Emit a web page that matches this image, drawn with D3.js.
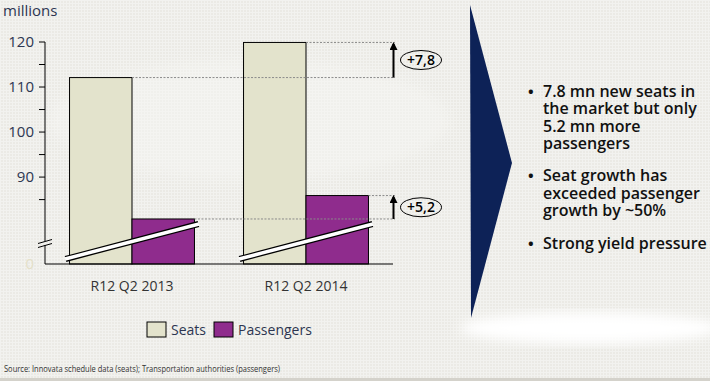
<!DOCTYPE html>
<html>
<head>
<meta charset="utf-8">
<script src="https://cdn.jsdelivr.net/npm/d3@7"></script>
<style>
  body { margin: 0; background: #ecebe6; }
  svg { display: block; }
</style>
</head>
<body>
<svg id="chart"></svg>
<script>
const categories = ["R12 Q2 2013", "R12 Q2 2014"];
const series = ["Seats", "Passengers"];
const seats = [112.1, 119.9];
const passengers = [80.7, 85.9];
const deltas = ["+7,8", "+5,2"];
const majorTicks = [90, 100, 110, 120];
const minorTicks = [85, 95, 105, 115];
const bullets = [
  ["7.8 mn new seats in", "the market but only", "5.2 mn more", "passengers"],
  ["Seat growth has", "exceeded passenger", "growth by ~50%"],
  ["Strong yield pressure"]
];

const width = 710, height = 381;
const colors = { Seats: "#e3e3cc", Passengers: "#8f2c8d" };

const svg = d3.select("#chart").attr("width", width).attr("height", height);

// background with a faint halftone grid
const defs = svg.append("defs");
const pat = defs.append("pattern")
  .attr("id", "grid")
  .attr("patternUnits", "userSpaceOnUse")
  .attr("width", 3).attr("height", 3);
pat.append("rect").attr("width", 3).attr("height", 3).attr("fill", "#ebeae5");
pat.append("path").attr("d", "M0,0.5H3M0.5,0V3").attr("stroke", "#f2f2ef").attr("stroke-width", 1);
defs.append("filter").attr("id", "blur").append("feGaussianBlur").attr("stdDeviation", 6);

svg.append("rect").attr("width", width).attr("height", height).attr("fill", "url(#grid)");
svg.append("ellipse").attr("cx", 590).attr("cy", 328).attr("rx", 130).attr("ry", 16)
  .attr("fill", "#fff").attr("filter", "url(#blur)");
svg.append("ellipse").attr("cx", 250).attr("cy", 120).attr("rx", 200).attr("ry", 60)
  .attr("fill", "#f6f6f3").attr("opacity", 0.5).attr("filter", "url(#blur)");
svg.append("rect").attr("y", 378).attr("width", width).attr("height", 3).attr("fill", "#d4d2cb");

// scales
const x = d3.scaleBand().domain(categories).range([45, 393]).paddingInner(0.282).paddingOuter(0.141);
const xs = d3.scaleBand().domain(series).range([0, x.bandwidth()]);
const y = d3.scaleLinear().domain([70.7, 120]).range([264, 42]);

const tickFont = "'Open Sans', sans-serif";

svg.append("text").attr("x", 3).attr("y", 16)
  .attr("font-family", tickFont).attr("font-size", 15).attr("fill", "#2d3651")
  .text("millions");

// y axis
const axis = svg.append("g");
axis.append("line").attr("x1", 45).attr("x2", 45).attr("y1", y(120)).attr("y2", 241)
  .attr("stroke", "#000");
axis.append("line").attr("x1", 45).attr("x2", 45).attr("y1", 245).attr("y2", 264)
  .attr("stroke", "#000");
axis.selectAll(".tk").data(majorTicks.concat(minorTicks)).enter().append("line")
  .attr("x1", 39).attr("x2", 45)
  .attr("y1", d => y(d)).attr("y2", d => y(d))
  .attr("stroke", "#000");
axis.selectAll(".lb").data(majorTicks).enter().append("text")
  .attr("x", 34).attr("y", d => y(d) + 5)
  .attr("text-anchor", "end")
  .attr("font-family", tickFont).attr("font-size", 15).attr("fill", "#2d3651")
  .text(d => d);
axis.append("text").attr("x", 34).attr("y", 269).attr("text-anchor", "end")
  .attr("font-family", tickFont).attr("font-size", 15).attr("fill", "#e4e0c8").text("0");
// axis break marks
[0, 4].forEach(off => {
  axis.append("line").attr("x1", 38).attr("x2", 52)
    .attr("y1", 243.5 + off).attr("y2", 239.5 + off)
    .attr("stroke", "#000").attr("stroke-width", 1);
});

// bars
const rows = categories.map((c, i) => ({ cat: c, Seats: seats[i], Passengers: passengers[i], delta: deltas[i] }));
const groups = svg.selectAll(".grp").data(rows).enter().append("g")
  .attr("transform", d => `translate(${x(d.cat)},0)`);

groups.selectAll("rect").data(d => series.map(s => ({ s, v: d[s] }))).enter().append("rect")
  .attr("x", d => xs(d.s))
  .attr("y", d => y(d.v))
  .attr("width", xs.bandwidth())
  .attr("height", d => y.range()[0] - y(d.v))
  .attr("fill", d => colors[d.s])
  .attr("stroke", "#000").attr("stroke-width", 1);

// break band across each group
groups.append("line")
  .attr("x1", -4).attr("y1", 259).attr("x2", x.bandwidth() + 4).attr("y2", 224)
  .attr("stroke", "#000").attr("stroke-width", 6);
groups.append("line")
  .attr("x1", -4.5).attr("y1", 259).attr("x2", x.bandwidth() + 4.5).attr("y2", 224)
  .attr("stroke", "#fff").attr("stroke-width", 3.5);

// baseline
svg.append("line").attr("x1", 45).attr("x2", 393).attr("y1", 264).attr("y2", 264)
  .attr("stroke", "#000");

// category labels
svg.selectAll(".cat").data(categories).enter().append("text")
  .attr("x", d => x(d) + x.bandwidth() / 2)
  .attr("y", 291)
  .attr("text-anchor", "middle")
  .attr("font-family", tickFont).attr("font-size", 14).attr("fill", "#333")
  .text(d => d);

// growth annotations
const annX = x.range()[1];
defs.append("marker").attr("id", "arrow")
  .attr("viewBox", "0 -4 8 8").attr("refX", 6).attr("refY", 0)
  .attr("markerWidth", 4).attr("markerHeight", 4)
  .attr("orient", "auto")
  .append("path").attr("d", "M0,-4L8,0L0,4Z").attr("fill", "#000");

series.forEach((s, si) => {
  const vals = s === "Seats" ? seats : passengers;
  // dashed lines from each bar top to the annotation
  vals.forEach((v, i) => {
    svg.append("line")
      .attr("x1", x(categories[i]) + xs(s) + xs.bandwidth())
      .attr("x2", annX + 2)
      .attr("y1", y(v)).attr("y2", y(v))
      .attr("stroke", "#8a8a8a").attr("stroke-width", 1).attr("stroke-dasharray", "2,1.5");
  });
  const y0 = y(vals[0]), y1 = y(vals[1]);
  svg.append("line").attr("x1", annX + 0.5).attr("x2", annX + 0.5)
    .attr("y1", y0).attr("y2", y1 + 1.5)
    .attr("stroke", "#000").attr("stroke-width", 2)
    .attr("marker-end", "url(#arrow)");
  const cy = (y0 + y1) / 2;
  svg.append("ellipse").attr("cx", annX + 28).attr("cy", cy)
    .attr("rx", 20.5).attr("ry", 9.5)
    .attr("fill", "none").attr("stroke", "#000").attr("stroke-width", 1);
  svg.append("text").attr("x", annX + 28).attr("y", cy + 5)
    .attr("text-anchor", "middle")
    .attr("font-family", "'Open Sans', sans-serif").attr("font-weight", 600)
    .attr("font-size", 14).attr("fill", "#000")
    .text(rows[si].delta);
});

// legend
const legend = svg.append("g");
const legX = [147, 214];
series.forEach((s, i) => {
  legend.append("rect").attr("x", legX[i]).attr("y", 322).attr("width", 19).attr("height", 15)
    .attr("fill", colors[s]).attr("stroke", "#000");
  legend.append("text").attr("x", legX[i] + 24).attr("y", 335)
    .attr("font-family", tickFont).attr("font-size", 14).attr("fill", "#2d3651")
    .text(s);
});

svg.append("text").attr("x", 4).attr("y", 372)
  .attr("font-family", "'Liberation Sans Narrow', 'Open Sans', sans-serif")
  .attr("font-size", 9).attr("fill", "#333")
  .attr("textLength", 276).attr("lengthAdjust", "spacingAndGlyphs")
  .text("Source: Innovata schedule data (seats); Transportation authorities (passengers)");

// navy chevron
svg.append("path")
  .attr("d", "M470,5L512,163L471,318Z")
  .attr("fill", "#0d2257");

// bullets, one text block per bullet
const bulletTop = [96.5, 181, 248.5];
const lineH = 17.6;
bullets.forEach((lines, bi) => {
  const t = svg.append("text")
    .attr("font-family", "'Open Sans', sans-serif").attr("fill", "#111");
  t.append("tspan").attr("x", 528).attr("y", bulletTop[bi])
    .attr("font-weight", 700).attr("font-size", 15).text("•");
  lines.forEach((line, li) => {
    t.append("tspan").attr("x", 543).attr("y", bulletTop[bi] + li * lineH)
      .attr("font-weight", 600).attr("font-size", 16)
      .text(line);
  });
});
</script>
</body>
</html>
